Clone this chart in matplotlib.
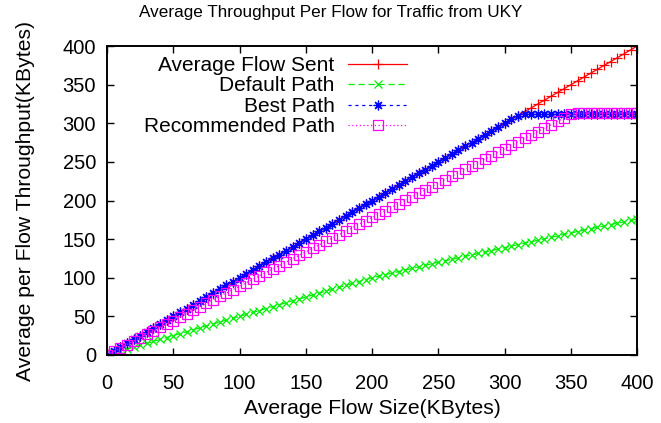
"""Average throughput per flow for traffic from UKY."""

import matplotlib
matplotlib.use("Agg")
import matplotlib.pyplot as plt

plt.rcParams["font.family"] = ["Liberation Sans", "DejaVu Sans"]

flow_size = [
    0, 5, 10, 15, 20, 25, 30, 35, 40, 45, 50, 55, 60, 65, 70, 75, 80, 85, 90, 95,
    100, 105, 110, 115, 120, 125, 130, 135, 140, 145, 150, 155, 160, 165, 170, 175,
    180, 185, 190, 195, 200, 205, 210, 215, 220, 225, 230, 235, 240, 245, 250, 255,
    260, 265, 270, 275, 280, 285, 290, 295, 300, 305, 310, 315, 320, 325, 330, 335,
    340, 345, 350, 355, 360, 365, 370, 375, 380, 385, 390, 395, 400,
]

flow_sent = [
    0, 5, 10, 15, 20, 25, 30, 35, 40, 45, 50, 55, 60, 65, 70, 75, 80, 85, 90, 95,
    100, 105, 110, 115, 120, 125, 130, 135, 140, 145, 150, 155, 160, 165, 170, 175,
    180, 185, 190, 195, 200, 205, 210, 215, 220, 225, 230, 235, 240, 245, 250, 255,
    260, 265, 270, 275, 280, 285, 290, 295, 300, 305, 310, 315, 320, 325, 330, 335,
    340, 345, 350, 355, 360, 365, 370, 375, 380, 385, 390, 395, 400,
]

default_path = [
    0, 2.5, 5, 7.5, 10, 12.5, 15, 17.5, 20, 22.5, 25, 27.5, 30, 32.5, 35, 37.5,
    40, 42.5, 45, 47.5, 50, 52.5, 55, 57.5, 60, 62.5, 65, 67.5, 70, 72.5, 75, 77.5,
    80, 82.5, 85, 87.5, 90, 92.5, 95, 97.5, 100,
    102, 104, 106, 108, 110, 112, 114, 116, 118, 120,
    121.9, 123.8, 125.7, 127.6, 129.5, 131.4, 133.3, 135.2, 137.1, 139,
    140.9, 142.8, 144.7, 146.6, 148.5, 150.4, 152.3, 154.2, 156.1, 158,
    159.8, 161.6, 163.4, 165.2, 167, 168.8, 170.6, 172.4, 174.2, 176,
]

best_path = [
    0, 5, 10, 15, 20, 25, 30, 35, 40, 45, 50, 55, 60, 65, 70, 75, 80, 85, 90, 95,
    100, 105, 110, 115, 120, 125, 130, 135, 140, 145, 150, 155, 160, 165, 170, 175,
    180, 185, 190, 195, 200, 205, 210, 215, 220, 225, 230, 235, 240, 245, 250, 255,
    260, 265, 270, 275, 280, 285, 290, 295, 300, 305, 310, 312, 312, 312, 312, 312,
    312, 312, 312, 312, 312, 312, 312, 312, 312, 312, 312, 312, 312,
]

recommended_path = [
    0, 4.5, 8.9, 13.4, 17.8, 22.3, 26.7, 31.2, 35.6, 40.1, 44.5, 49.0, 53.4, 57.9,
    62.3, 66.8, 71.2, 75.7, 80.1, 84.6, 89.0, 93.5, 97.9, 102.4, 106.8, 111.3,
    115.7, 120.2, 124.6, 129.1, 133.5, 138.0, 142.4, 146.9, 151.3, 155.8, 160.2,
    164.7, 169.1, 173.6, 178.0, 182.5, 186.9, 191.4, 195.8, 200.3, 204.7, 209.2,
    213.6, 218.1, 222.5, 227.0, 231.4, 235.9, 240.3, 244.8, 249.2, 253.7, 258.1,
    262.6, 267.0, 271.5, 275.9, 280.4, 284.8, 289.3, 293.7, 298.2, 302.6, 307.1,
    311.5, 313, 313, 313, 313, 313, 313, 313, 313, 313, 313,
]

fig = plt.figure(figsize=(6.61, 4.23), dpi=100)
ax = fig.add_axes([0.162, 0.161, 0.802, 0.730])

ax.plot(flow_size, flow_sent, color="#ff0000", lw=0.9, marker="+", ms=7, mew=0.9,
        label="Average Flow Sent")
ax.plot(flow_size, default_path, color="#00ee00", lw=0.9, ls=(0, (5, 3)), marker="x",
        ms=5.5, mew=0.9, label="Default Path")
ax.plot(flow_size, best_path, color="#0000ff", lw=0.9, ls=(0, (2.5, 3)), marker=(8, 2, 0),
        ms=7, mew=0.9, label="Best Path")
ax.plot(flow_size, recommended_path, color="#ff00ff", lw=0.9, ls=(0, (1, 2)), marker="s",
        ms=6.5, mew=0.9, mfc="none", label="Recommended Path")

ax.set_xlim(0, 400)
ax.set_ylim(0, 400)
ax.set_xticks(range(0, 401, 50))
ax.set_yticks(range(0, 401, 50))
ax.tick_params(direction="in", length=5, width=1, top=True, right=True, labelsize=14.5)
ax.tick_params(axis="x", pad=14)
ax.tick_params(axis="y", pad=8)
for s in ax.spines.values():
    s.set_linewidth(1.4)

ax.set_xlabel("Average Flow Size(KBytes)", fontsize=15.2, labelpad=4)
ax.set_ylabel("Average per Flow Throughput(KBytes)", fontsize=15.2, labelpad=20)
fig.text(0.5, 1 - 13 / 423, "Average Throughput Per Flow for Traffic from UKY",
         ha="center", va="center", fontsize=12.3)

ax.legend(loc="upper left", bbox_to_anchor=(0.053, 0.995), frameon=False,
          markerfirst=False, fontsize=15, handlelength=2.8, handletextpad=0.67,
          labelspacing=0.07, borderaxespad=0)

fig.savefig("out.png", dpi=100)
